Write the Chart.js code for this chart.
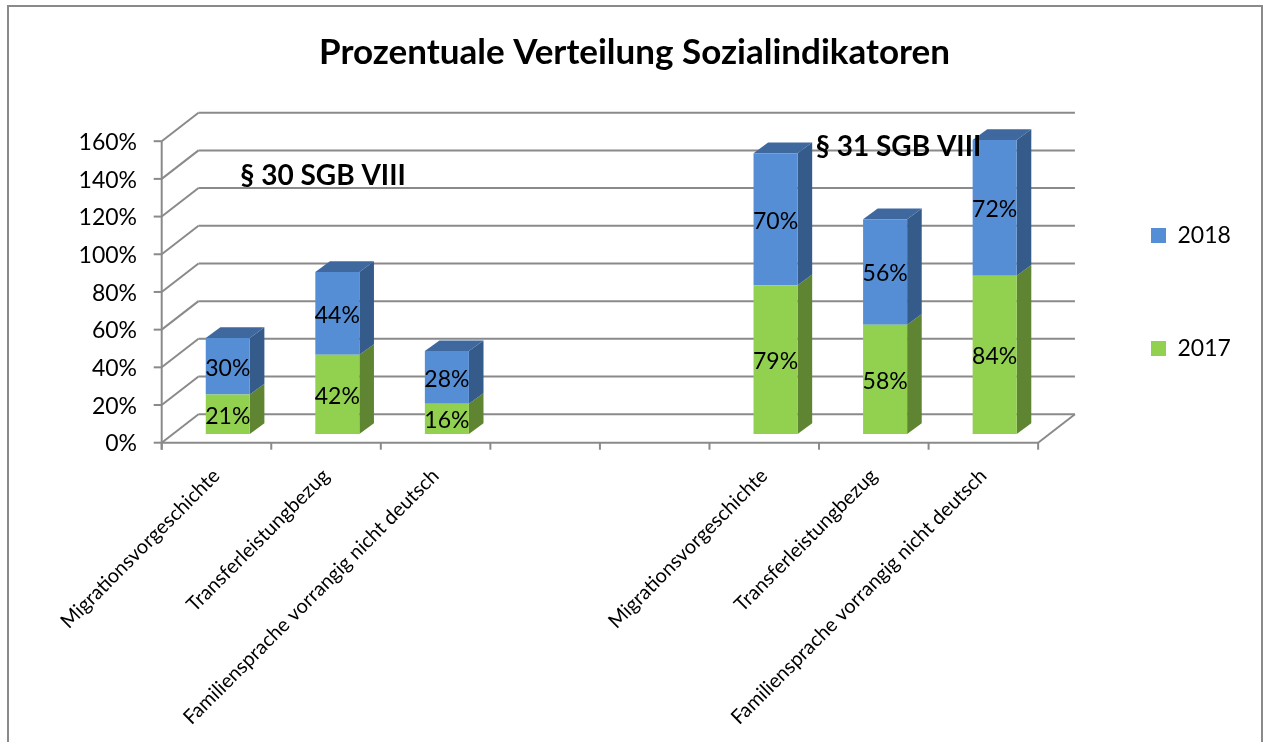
<!DOCTYPE html>
<html><head><meta charset="utf-8">
<style>html,body{margin:0;padding:0;background:#fff}canvas{display:block}</style>
<script src="https://cdn.jsdelivr.net/npm/chart.js@4"></script>
</head><body><canvas id="c" width="1264" height="742"></canvas>
<script>
const categories = ["Migrationsvorgeschichte","Transferleistungbezug","Familiensprache vorrangig nicht deutsch","","","Migrationsvorgeschichte","Transferleistungbezug","Familiensprache vorrangig nicht deutsch"];
const values2017 = [21,42,16,null,null,79,58,84];
const values2018 = [30,44,28,null,null,70,56,72];
const titleText = "Prozentuale Verteilung Sozialindikatoren";
const notes = [["§ 30 SGB VIII",323,176],["§ 31 SGB VIII",898.5,147]];
const FONT = "Lato, Carlito, Calibri, sans-serif";
const GRID = "#8a8a8a";
const FRONT = {dx:-11.3, dy:8.7}, BACK = {dx:25.5, dy:-19.8}, BAR = {dx:14.6, dy:-10.7};
const shades = [
 {front:"#92D050", side:"#5F8532", top:"#6E9A3A"},
 {front:"#558ED5", side:"#355B8A", top:"#3F689F"}
];
function line(ctx,x1,y1,x2,y2){ctx.beginPath();ctx.moveTo(x1,y1);ctx.lineTo(x2,y2);ctx.stroke();}
function poly(ctx,pts,fill){ctx.fillStyle=fill;ctx.beginPath();pts.forEach((p,i)=>i?ctx.lineTo(p[0],p[1]):ctx.moveTo(p[0],p[1]));ctx.closePath();ctx.fill();}
const scene = {
 id:"scene",
 afterLayout(chart){
  const t=chart.titleBlock; t.left=0; t.right=1269;
  const l=chart.legend; const h=l.bottom-l.top;
  l.left=1061; l.right=1264; l.top=292-h/2; l.bottom=l.top+h;
 },
 beforeDraw(chart){
  const ctx=chart.ctx; ctx.save();
  ctx.fillStyle="#fff";ctx.fillRect(0,0,1264,742);
  ctx.strokeStyle=GRID;ctx.lineWidth=2;
  ctx.beginPath();ctx.moveTo(8,742);ctx.lineTo(8,6);ctx.lineTo(1262,6);ctx.lineTo(1262,742);ctx.stroke();
  ctx.restore();
 },
 beforeDatasetsDraw(chart){
  const ctx=chart.ctx,{x,y}=chart.scales,a=chart.chartArea;
  const fl=a.left+FRONT.dx, fr=a.right+FRONT.dx, bl=a.left+BACK.dx, br=a.right+BACK.dx;
  ctx.save();ctx.strokeStyle=GRID;ctx.lineWidth=2;
  y.ticks.forEach(t=>{
   const p=y.getPixelForValue(t.value);
   line(ctx,bl,p+BACK.dy,br,p+BACK.dy);
   line(ctx,fl,p+FRONT.dy,bl,p+BACK.dy);
   line(ctx,fl-8,p+FRONT.dy,fl,p+FRONT.dy);
  });
  const y0=y.getPixelForValue(0), yT=y.getPixelForValue(160);
  line(ctx,fl,yT+FRONT.dy,fl,y0+FRONT.dy+7);
  line(ctx,fl,y0+FRONT.dy,fr,y0+FRONT.dy);
  line(ctx,fr,y0+FRONT.dy,br,y0+BACK.dy);
  for(let i=0;i<=categories.length;i++){
   const px=a.left+(a.right-a.left)*i/categories.length+FRONT.dx;
   line(ctx,px,y0+FRONT.dy,px,y0+FRONT.dy+7);
  }
  ctx.restore();
  chart.data.datasets.forEach((ds,di)=>{
   chart.getDatasetMeta(di).data.forEach((b,i)=>{
    if(ds.data[i]==null)return;
    const r=b.x+b.width/2,l=b.x-b.width/2,t=b.y,bt=b.base,s=shades[di];
    poly(ctx,[[r,t],[r+BAR.dx,t+BAR.dy],[r+BAR.dx,bt+BAR.dy],[r,bt]],s.side);
    if(di===chart.data.datasets.length-1)
     poly(ctx,[[l,t],[l+BAR.dx,t+BAR.dy],[r+BAR.dx,t+BAR.dy],[r,t]],s.top);
   });
  });
 },
 afterDatasetsDraw(chart){
  const ctx=chart.ctx;ctx.save();
  ctx.fillStyle="#000";ctx.textAlign="center";ctx.textBaseline="middle";
  ctx.font="23px "+FONT;
  chart.data.datasets.forEach((ds,di)=>{
   chart.getDatasetMeta(di).data.forEach((b,i)=>{
    if(ds.data[i]==null)return;
    ctx.fillText(ds.data[i]+"%",b.x,(b.y+b.base)/2+2);
   });
  });
  ctx.font="bold 28px "+FONT;
  notes.forEach(n=>ctx.fillText(n[0],n[1],n[2]));
  ctx.restore();
 }
};
new Chart(document.getElementById("c"),{
 type:"bar",
 data:{labels:categories,datasets:[
  {label:"2017",data:values2017,backgroundColor:shades[0].front,borderWidth:0,barPercentage:0.402,categoryPercentage:1},
  {label:"2018",data:values2018,backgroundColor:shades[1].front,borderWidth:0,barPercentage:0.402,categoryPercentage:1}
 ]},
 plugins:[scene],
 options:{
  responsive:false,animation:false,
  layout:{padding:{right:34.7}},
  plugins:{
   tooltip:{enabled:false},
   title:{display:true,text:titleText,color:"#000",font:{family:FONT,size:35,weight:"bold",lineHeight:1.2},padding:{top:32,bottom:58.5}},
   legend:{display:true,position:"right",reverse:true,
    labels:{boxWidth:15,boxHeight:15,padding:90,color:"#000",font:{family:FONT,size:23}}}
  },
  scales:{
   x:{stacked:true,grid:{display:false},border:{display:false},
    afterFit(s){s.height=308;},
    ticks:{autoSkip:false,minRotation:45,maxRotation:45,padding:22,labelOffset:-11.3,color:"#000",font:{family:FONT,size:20}}},
   y:{stacked:true,min:0,max:160,grid:{display:false,drawTicks:false},border:{display:false},
    afterFit(s){s.width=173;},
    ticks:{stepSize:20,padding:36,labelOffset:10,color:"#000",font:{family:FONT,size:23},callback:v=>v+"%"}}
  }
 }
});
</script></body></html>
